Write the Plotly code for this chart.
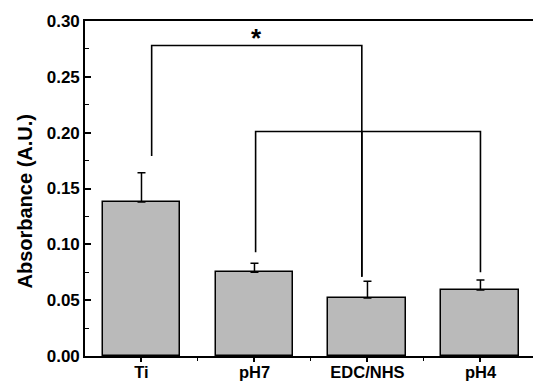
import plotly.graph_objects as go

categories = ["Ti", "pH7", "EDC/NHS", "pH4"]
xpos = [1, 2, 3, 4]
values = [0.138, 0.075, 0.052, 0.059]
errors = [0.026, 0.008, 0.015, 0.009]
ytick_vals = [0, 0.05, 0.10, 0.15, 0.20, 0.25, 0.30]
y_title = "Absorbance (A.U.)"

# significance brackets (x, y vertices)
bracket1_x = [1.09, 1.09, 2.95, 2.95]
bracket1_y = [0.179, 0.278, 0.278, 0.071]
bracket2_x = [2.01, 2.01, 4.0, 4.0]
bracket2_y = [0.093, 0.201, 0.201, 0.075]
bracket2_mid_x = [2.95, 2.95]
bracket2_mid_y = [0.201, 0.071]
star_label = "*"

font = "Liberation Sans, Arial, sans-serif"

fig = go.Figure()
fig.add_trace(go.Bar(
    x=xpos, y=values, width=0.69,
    marker=dict(color="#bababa", line=dict(color="black", width=1.5)),
    error_y=dict(type="data", array=errors, arrayminus=[0]*4, symmetric=False,
                 color="black", thickness=1.5, width=4),
    showlegend=False,
))
for bx, by in [(bracket1_x, bracket1_y), (bracket2_x, bracket2_y), (bracket2_mid_x, bracket2_mid_y)]:
    fig.add_trace(go.Scatter(x=bx, y=by, mode="lines",
                             line=dict(color="black", width=1.6),
                             showlegend=False, hoverinfo="skip"))

fig.add_annotation(x=(bracket1_x[0] + bracket1_x[-1]) / 2, y=0.278, text="<b>" + star_label + "</b>",
                   showarrow=False, yanchor="bottom", yshift=-9,
                   font=dict(family=font, size=26, color="black"))

fig.add_annotation(xref="paper", yref="paper", x=0, y=0.5, xshift=-61, yshift=-13,
                   xanchor="center", yanchor="middle", textangle=-90, showarrow=False,
                   text="<b>" + y_title + "</b>",
                   font=dict(family=font, size=20, color="black"))

fig.update_layout(
    width=533, height=386,
    margin=dict(l=85, r=0, t=21, b=30),
    plot_bgcolor="white", paper_bgcolor="white",
    font=dict(family=font, size=16, color="black"),
    bargap=0,
)
fig.update_xaxes(
    range=[0.5, 4.465], tickvals=xpos, ticktext=["<b>%s</b>" % c for c in categories],
    showline=True, linecolor="black", linewidth=1.6, mirror=True,
    ticks="outside", ticklen=4, tickwidth=1.5, tickcolor="black",
    minor=dict(tickvals=[1.5, 2.5, 3.5], ticks="outside", ticklen=3, tickwidth=1.2, tickcolor="black"),
    showgrid=False, zeroline=False, automargin=False,
    ticklabelstandoff=-4,
    tickfont=dict(family=font, size=16.5, color="black"),
)
fig.update_yaxes(
    range=[0, 0.30], tickvals=ytick_vals,
    ticktext=["<b>%.2f</b>" % v for v in ytick_vals],
    showline=True, linecolor="black", linewidth=1.6, mirror=False,
    ticks="inside", ticklen=6, tickwidth=1.5, tickcolor="black",
    minor=dict(tickvals=[0.025, 0.075, 0.125, 0.175, 0.225, 0.275], ticks="inside", ticklen=4, tickwidth=1.2, tickcolor="black"),
    showgrid=False, zeroline=False, automargin=False,
    tickfont=dict(family=font, size=17, color="black"),
)

fig.write_html("out.html")
